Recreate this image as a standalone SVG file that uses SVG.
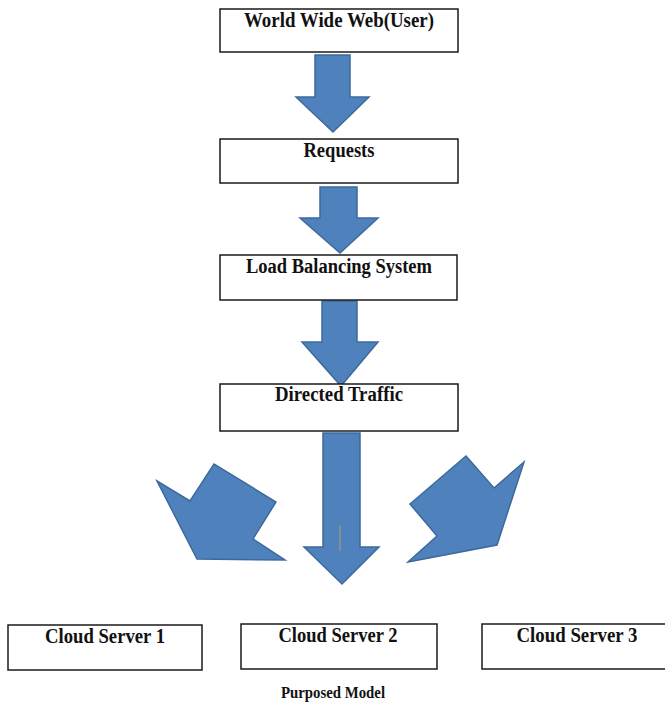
<svg xmlns="http://www.w3.org/2000/svg" width="665" height="707" viewBox="0 0 665 707">
<style>
.box{fill:#fff;stroke:#1a1a1a;stroke-width:1.5}
.lbl{font-family:"Liberation Serif","Times New Roman",serif;font-weight:bold;font-size:20px;fill:#111;text-anchor:middle}
.cap{font-family:"Liberation Serif","Times New Roman",serif;font-weight:bold;font-size:16px;fill:#111;text-anchor:middle}
.arr{fill:#4f81bd;stroke:#3d6a9c;stroke-width:1.5;stroke-linejoin:miter}
</style>
<rect width="665" height="707" fill="#fff"/>
<g id="connectors">
<polygon class="arr" points="315,55 350,55 350,97 369,97 333,132 296,97 315,97"/>
<polygon class="arr" points="320,187 357,187 357,218 378,218 340,253 300,218 320,218"/>
<polygon class="arr" points="322,301 357,301 357,342 378,342 341,386 302,342 322,342"/>
<polygon class="arr" points="323,433 360,433 360,547 379,547 342,584 304,547 323,547"/>
<line x1="340" y1="525" x2="340" y2="551" stroke="#b59a6a" stroke-width="1"/>
<polygon class="arr" points="157,481 190,501 214,464 276,502 253,539 285,560 197,559"/>
<polygon class="arr" points="466,456 494,488 524,462 497,545 408,562 437,536 410,504"/>
</g>
<g id="node-www">
<rect class="box" x="220" y="9" width="238" height="43"/>
<text class="lbl" x="339" y="27" textLength="190" lengthAdjust="spacingAndGlyphs">World Wide Web(User)</text>
</g>
<g id="node-requests">
<rect class="box" x="220" y="139" width="238" height="44"/>
<text class="lbl" x="339" y="157" textLength="71" lengthAdjust="spacingAndGlyphs">Requests</text>
</g>
<g id="node-lbs">
<rect class="box" x="220" y="255" width="237" height="45"/>
<text class="lbl" x="339" y="273" textLength="186" lengthAdjust="spacingAndGlyphs">Load Balancing System</text>
</g>
<g id="node-traffic">
<rect class="box" x="220" y="384" width="238" height="47"/>
<text class="lbl" x="339" y="401" textLength="128" lengthAdjust="spacingAndGlyphs">Directed Traffic</text>
</g>
<g id="node-cs1">
<rect class="box" x="8" y="625" width="194" height="45"/>
<text class="lbl" x="105" y="643" textLength="120" lengthAdjust="spacingAndGlyphs">Cloud Server 1</text>
</g>
<g id="node-cs2">
<rect class="box" x="241" y="624" width="196" height="45"/>
<text class="lbl" x="338" y="642" textLength="119" lengthAdjust="spacingAndGlyphs">Cloud Server 2</text>
</g>
<g id="node-cs3">
<rect class="box" x="482" y="624" width="190" height="45"/>
<text class="lbl" x="577" y="642" textLength="121" lengthAdjust="spacingAndGlyphs">Cloud Server 3</text>
</g>
<text class="cap" x="333" y="698" textLength="104" lengthAdjust="spacingAndGlyphs">Purposed Model</text>
</svg>
